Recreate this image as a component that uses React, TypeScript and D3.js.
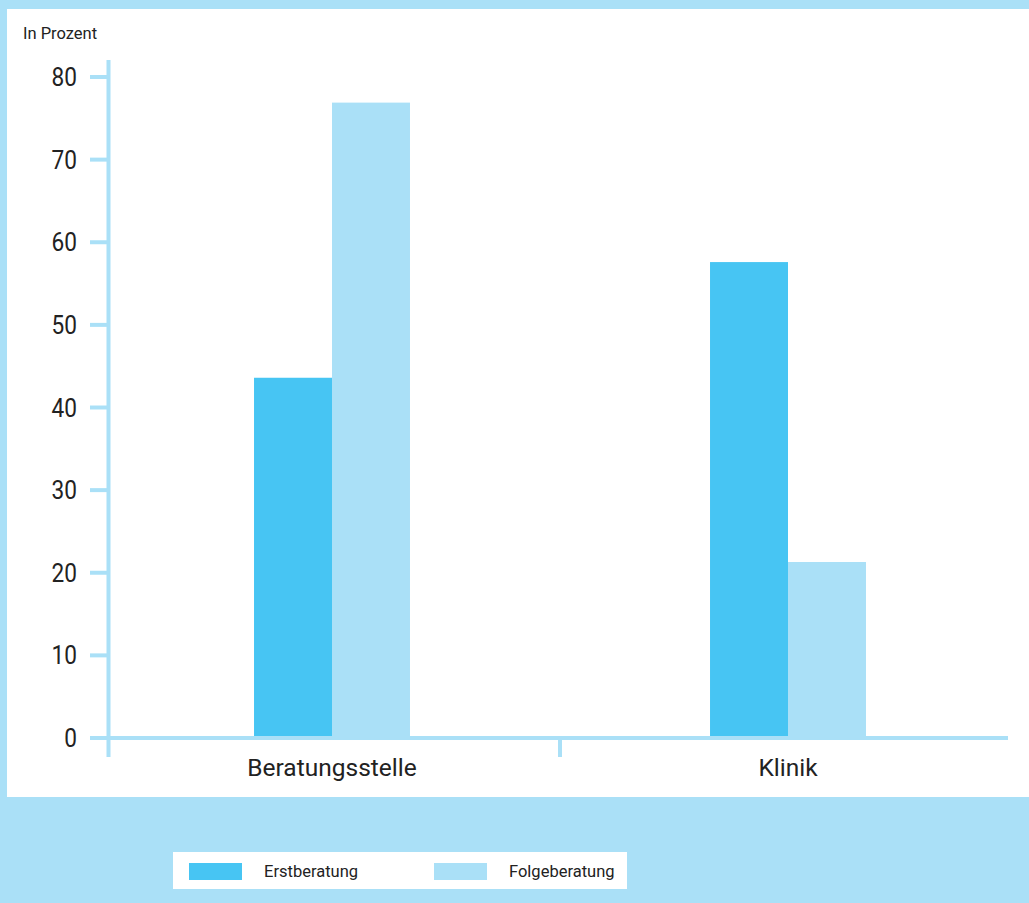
import React from "react";
import * as d3 from "d3";

const categories = ["Beratungsstelle", "Klinik"];
const seriesNames = ["Erstberatung", "Folgeberatung"];
const erstberatung = [43.6, 57.6];
const folgeberatung = [76.9, 21.3];
const yTicks = [0, 10, 20, 30, 40, 50, 60, 70, 80];

const W = 1029;
const H = 903;
const BG = "#aae0f7";
const C_ERST = "#47c5f3";
const C_FOLGE = "#aae0f7";
const AXIS = "#aae0f7";
const FONT = "'Roboto', 'Liberation Sans', sans-serif";

export default function App() {
  const y = d3.scaleLinear().domain([0, 80]).range([738, 77]);
  const x = d3
    .scaleBand<string>()
    .domain(categories)
    .range([104, 1016])
    .paddingInner(0.658)
    .paddingOuter(0.329);
  const xs = d3.scaleBand<string>().domain(seriesNames).range([0, x.bandwidth()]);
  const values = [erstberatung, folgeberatung];
  const colors = [C_ERST, C_FOLGE];
  const divider = (x(categories[0])! + x.bandwidth() + x(categories[1])!) / 2;

  return (
    <svg
      width={W}
      height={H}
      style={{ position: "absolute", left: 0, top: 0, display: "block" }}
    >
      <rect x={0} y={0} width={W} height={H} fill={BG} />
      <rect x={7} y={9} width={W - 7} height={788} fill="#fff" />

      <text x={23} y={39} fontFamily={FONT} fontSize={16.5} fill="#222">
        In Prozent
      </text>

      {/* bars */}
      {categories.map((c, ci) =>
        seriesNames.map((s, si) => (
          <rect
            key={c + s}
            x={x(c)! + xs(s)!}
            y={y(values[si][ci])}
            width={xs.bandwidth()}
            height={y(0) - y(values[si][ci])}
            fill={colors[si]}
          />
        ))
      )}

      {/* y axis */}
      <line x1={108.5} x2={108.5} y1={60} y2={757} stroke={AXIS} strokeWidth={4} />
      {yTicks.map((t) => (
        <g key={t}>
          <line x1={90} x2={108} y1={y(t)} y2={y(t)} stroke={AXIS} strokeWidth={4} />
          <text
            transform={`translate(77,${y(t)}) scale(0.87,1)`}
            dy="0.35em"
            textAnchor="end"
            fontFamily={FONT}
            fontSize={26}
            fill="#222"
          >
            {t}
          </text>
        </g>
      ))}

      {/* x axis */}
      <line x1={91} x2={1008} y1={y(0)} y2={y(0)} stroke={AXIS} strokeWidth={4} />
      <line x1={divider} x2={divider} y1={y(0)} y2={757} stroke={AXIS} strokeWidth={4} />
      {categories.map((c) => (
        <text
          key={c}
          x={x(c)! + x.bandwidth() / 2}
          y={776}
          textAnchor="middle"
          fontFamily={FONT}
          fontSize={24.5}
          fill="#222"
        >
          {c}
        </text>
      ))}

      {/* legend */}
      <rect x={173} y={852} width={454} height={37} fill="#fff" />
      {seriesNames.map((s, i) => (
        <g key={s} transform={`translate(${189 + i * 245},863)`}>
          <rect x={0} y={0} width={53} height={17} fill={colors[i]} />
          <text x={75} y={14} fontFamily={FONT} fontSize={16.5} fill="#222">
            {s}
          </text>
        </g>
      ))}
    </svg>
  );
}
